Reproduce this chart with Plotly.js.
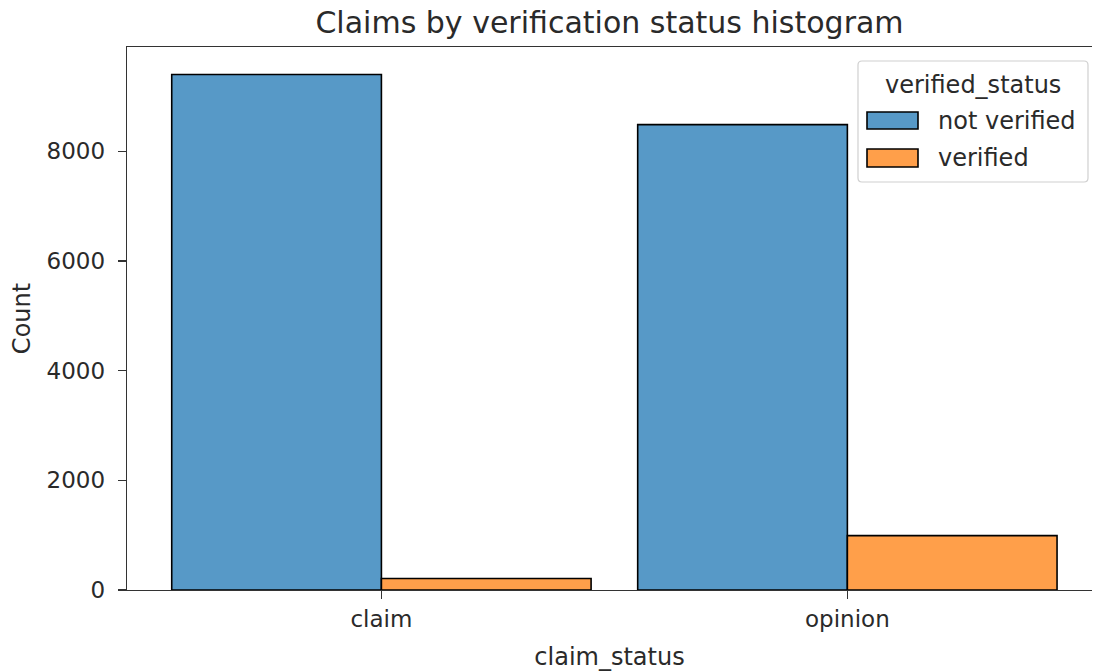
<!DOCTYPE html>
<html>
<head>
<meta charset="utf-8">
<script src="https://cdn.plot.ly/plotly-3.0.1.min.js"></script>
<style>html,body{margin:0;padding:0;background:#fff;overflow:hidden}</style>
</head>
<body>
<div id="chart" style="width:1093px;height:672px"></div>
<script>
// ---- data ----
const categories = ["claim", "opinion"];
const seriesNames = ["not verified", "verified"];
const notVerified = [9399, 8485];
const verified = [209, 991];
const legendTitle = "verified_status";
const chartTitle = "Claims by verification status histogram";
const xLabel = "claim_status";
const yLabel = "Count";
const yTicks = [0, 2000, 4000, 6000, 8000];

// ---- styles ----
const colors = ["#5799c7", "#ff9f4a"];
const font = "DejaVu Sans, Liberation Sans, sans-serif";
const txt = "#2a2a2a";
const W = 1093, H = 672;
const M = {l: 127, r: 1, t: 47, b: 82};
const pw = W - M.l - M.r, ph = H - M.t - M.b;
const px = x => (x - M.l) / pw;
const py = y => 1 - (y - M.t) / ph;

const traces = [notVerified, verified].map((vals, i) => ({
  type: "bar",
  x: categories,
  y: vals,
  name: seriesNames[i],
  marker: {color: colors[i], line: {color: "#000", width: 1.6}},
  showlegend: false,
  hoverinfo: "x+y+name"
}));

// custom legend
const lx0 = 858, lx1 = 1088, ly0 = 61, ly1 = 182, r = 4;
const legPath = `M ${px(lx0 + r)} ${py(ly0)} L ${px(lx1 - r)} ${py(ly0)} Q ${px(lx1)} ${py(ly0)} ${px(lx1)} ${py(ly0 + r)} ` +
  `L ${px(lx1)} ${py(ly1 - r)} Q ${px(lx1)} ${py(ly1)} ${px(lx1 - r)} ${py(ly1)} ` +
  `L ${px(lx0 + r)} ${py(ly1)} Q ${px(lx0)} ${py(ly1)} ${px(lx0)} ${py(ly1 - r)} ` +
  `L ${px(lx0)} ${py(ly0 + r)} Q ${px(lx0)} ${py(ly0)} ${px(lx0 + r)} ${py(ly0)} Z`;
const shapes = [{
  type: "path", xref: "paper", yref: "paper", path: legPath,
  line: {color: "#d0d0d0", width: 1.2}, fillcolor: "rgba(255,255,255,0.85)", layer: "above"
}];
const annotations = [{
  xref: "paper", yref: "paper", x: px(973), y: py(85), text: legendTitle,
  showarrow: false, xanchor: "center", yanchor: "middle", font: {family: font, size: 24, color: txt}
}];
const patchY = [[112, 129], [149, 167]];
seriesNames.forEach((n, i) => {
  shapes.push({
    type: "rect", xref: "paper", yref: "paper",
    x0: px(867), x1: px(918), y0: py(patchY[i][0]), y1: py(patchY[i][1]),
    fillcolor: colors[i], line: {color: "#000", width: 1.6}, layer: "above"
  });
  annotations.push({
    xref: "paper", yref: "paper", x: px(936), y: py((patchY[i][0] + patchY[i][1]) / 2),
    text: n, showarrow: false, xanchor: "left", yanchor: "middle",
    font: {family: font, size: 24, color: txt}
  });
});

const layout = {
  width: W, height: H,
  margin: M,
  paper_bgcolor: "#fff", plot_bgcolor: "#fff",
  barmode: "group", bargap: 0.1, bargroupgap: 0,
  font: {family: font, color: txt, size: 23},
  title: {text: chartTitle, x: 0.5, xref: "paper", xanchor: "center", y: 1 - 22 / H, yanchor: "middle",
          font: {family: font, size: 30, color: txt}},
  xaxis: {
    type: "category", range: [-0.546, 1.525],
    showgrid: false, zeroline: false,
    showline: true, linecolor: "#333", linewidth: 1.3, mirror: true,
    ticks: "outside", ticklen: 8, tickwidth: 1.3, tickcolor: "#333",
    tickfont: {family: font, size: 23, color: txt},
    title: {text: xLabel, standoff: 17, font: {family: font, size: 24, color: txt}}
  },
  yaxis: {
    range: [0, 9900],
    tickvals: yTicks, ticktext: yTicks.map(String),
    showgrid: false, zeroline: false,
    showline: true, linecolor: "#333", linewidth: 1.3,
    ticks: "outside", ticklen: 8, tickwidth: 1.3, tickcolor: "#333",
    ticklabelstandoff: 8,
    tickfont: {family: font, size: 23, color: txt},
    title: {text: yLabel, standoff: 9, font: {family: font, size: 24, color: txt}}
  },
  shapes: shapes,
  annotations: annotations
};

Plotly.newPlot("chart", traces, layout, {displayModeBar: false, staticPlot: true});
</script>
</body>
</html>
